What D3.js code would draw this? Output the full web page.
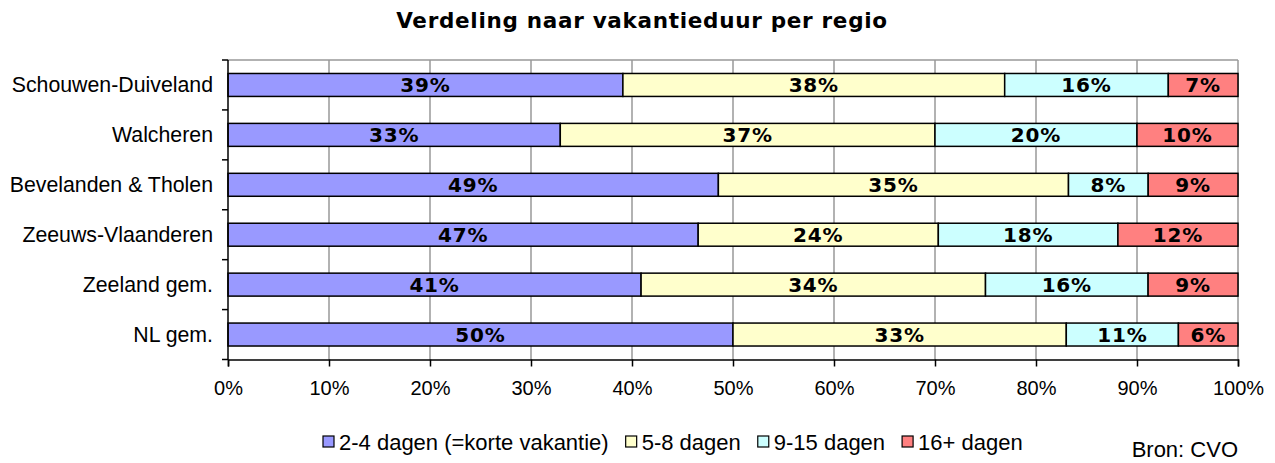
<!DOCTYPE html>
<html>
<head>
<meta charset="utf-8">
<script src="https://cdn.jsdelivr.net/npm/d3@7"></script>
<style>
  body { margin: 0; background: #fff; }
  svg { display: block; }
  .lbl { font-family: "Liberation Sans", Arial, sans-serif; font-size: 20px; fill: #000; }
  .bold { font-family: "DejaVu Sans", Verdana, sans-serif; font-weight: bold; fill: #000; }
</style>
</head>
<body>
<div id="chart"></div>
<script>
// data (percent per region)
var regions = ["Schouwen-Duiveland", "Walcheren", "Bevelanden & Tholen", "Zeeuws-Vlaanderen", "Zeeland gem.", "NL gem."];
var seriesNames = ["2-4 dagen (=korte vakantie)", "5-8 dagen", "9-15 dagen", "16+ dagen"];
var kort = [39.1, 32.9, 48.6, 46.6, 40.9, 50.0];
var middel = [37.8, 37.1, 34.7, 23.8, 34.1, 33.0];
var lang = [16.2, 20.0, 7.9, 17.8, 16.1, 11.1];
var extraLang = [6.9, 10.0, 8.9, 11.9, 8.9, 5.9];
var xTicks = [0, 0.1, 0.2, 0.3, 0.4, 0.5, 0.6, 0.7, 0.8, 0.9, 1];
var colors = ["#9999FF", "#FFFFCC", "#CCFFFF", "#FF8080"];

var width = 1275, height = 463;
var margin = {top: 60, right: 37, bottom: 103.5, left: 228};

var rows = regions.map(function(r, i) {
  return {region: r, s0: kort[i], s1: middel[i], s2: lang[i], s3: extraLang[i]};
});
var keys = ["s0", "s1", "s2", "s3"];

var svg = d3.select("#chart").append("svg")
  .attr("width", width)
  .attr("height", height);

var x = d3.scaleLinear().domain([0, 1]).range([margin.left, width - margin.right]);
var y = d3.scaleBand().domain(regions)
  .range([margin.top, height - margin.bottom])
  .paddingInner(0.54).paddingOuter(0.27);

var stacked = d3.stack().keys(keys).offset(d3.stackOffsetExpand)(rows);

// title
svg.append("text")
  .attr("class", "bold")
  .attr("x", 642).attr("y", 28)
  .attr("text-anchor", "middle")
  .style("font-size", "21.5px")
  .style("letter-spacing", "0.7px")
  .text("Verdeling naar vakantieduur per regio");

// gridlines + plot border
svg.append("g").selectAll("line")
  .data(xTicks.slice(1))
  .enter().append("line")
  .attr("x1", function(d) { return x(d); })
  .attr("x2", function(d) { return x(d); })
  .attr("y1", margin.top)
  .attr("y2", height - margin.bottom)
  .attr("stroke", "#999")
  .attr("stroke-width", 1.5);
svg.append("line")
  .attr("x1", x(0)).attr("x2", x(1))
  .attr("y1", margin.top).attr("y2", margin.top)
  .attr("stroke", "#999").attr("stroke-width", 1.5);

// bars
var layer = svg.append("g").selectAll("g")
  .data(stacked)
  .enter().append("g")
  .attr("fill", function(d, i) { return colors[i]; });

layer.selectAll("rect")
  .data(function(d) { return d; })
  .enter().append("rect")
  .attr("x", function(d) { return x(d[0]); })
  .attr("y", function(d) { return y(d.data.region); })
  .attr("width", function(d) { return x(d[1]) - x(d[0]); })
  .attr("height", y.bandwidth())
  .attr("stroke", "#000")
  .attr("stroke-width", 1.5);

layer.selectAll("text")
  .data(function(d) {
    return d.map(function(p) { p.key = d.key; return p; });
  })
  .enter().append("text")
  .attr("class", "bold")
  .attr("x", function(d) { return (x(d[0]) + x(d[1])) / 2; })
  .attr("y", function(d) { return y(d.data.region) + y.bandwidth() / 2 + 7.5; })
  .attr("text-anchor", "middle")
  .style("font-size", "20px")
  .style("letter-spacing", "0.8px")
  .text(function(d) { return Math.round(d.data[d.key]) + "%"; });

// y axis
var yAxis = svg.append("g");
yAxis.append("line")
  .attr("x1", x(0)).attr("x2", x(0))
  .attr("y1", margin.top).attr("y2", height - margin.bottom)
  .attr("stroke", "#000").attr("stroke-width", 1.5);
var step = y.step();
yAxis.selectAll(".tk")
  .data(d3.range(regions.length + 1))
  .enter().append("line")
  .attr("x1", x(0) - 6).attr("x2", x(0))
  .attr("y1", function(i) { return margin.top + i * step; })
  .attr("y2", function(i) { return margin.top + i * step; })
  .attr("stroke", "#000").attr("stroke-width", 1.5);
yAxis.selectAll("text")
  .data(regions)
  .enter().append("text")
  .attr("class", "lbl")
  .attr("x", x(0) - 15)
  .attr("y", function(d) { return y(d) + y.bandwidth() / 2 + 7.5; })
  .attr("text-anchor", "end")
  .style("font-size", "21.3px")
  .text(function(d) { return d; });

// x axis
var xAxis = svg.append("g")
  .attr("transform", "translate(0," + (height - margin.bottom) + ")")
  .call(d3.axisBottom(x).tickValues(xTicks).tickFormat(d3.format(".0%")).tickSize(7).tickPadding(14));
xAxis.select(".domain").attr("stroke", "#000").attr("stroke-width", 1.5);
xAxis.selectAll(".tick line").attr("stroke", "#000").attr("stroke-width", 1.5);
xAxis.selectAll(".tick text").attr("class", "lbl").attr("font-size", null).attr("font-family", null);

// legend
var legend = svg.append("g").attr("transform", "translate(323,442)");
var lx = 0;
seriesNames.forEach(function(name, i) {
  var g = legend.append("g").attr("transform", "translate(" + lx + ",0)");
  g.append("rect")
    .attr("x", 0).attr("y", -6)
    .attr("width", 11).attr("height", 11)
    .attr("fill", colors[i])
    .attr("stroke", "#000").attr("stroke-width", 1.2);
  var t = g.append("text")
    .attr("class", "lbl")
    .attr("x", 16).attr("y", 7.5)
    .style("font-size", "22px")
    .text(name);
  lx += 16 + t.node().getComputedTextLength() + 17;
});

// source
svg.append("text")
  .attr("class", "lbl")
  .attr("x", 1238).attr("y", 457)
  .attr("text-anchor", "end")
  .style("font-size", "22px")
  .text("Bron: CVO");
</script>
</body>
</html>
